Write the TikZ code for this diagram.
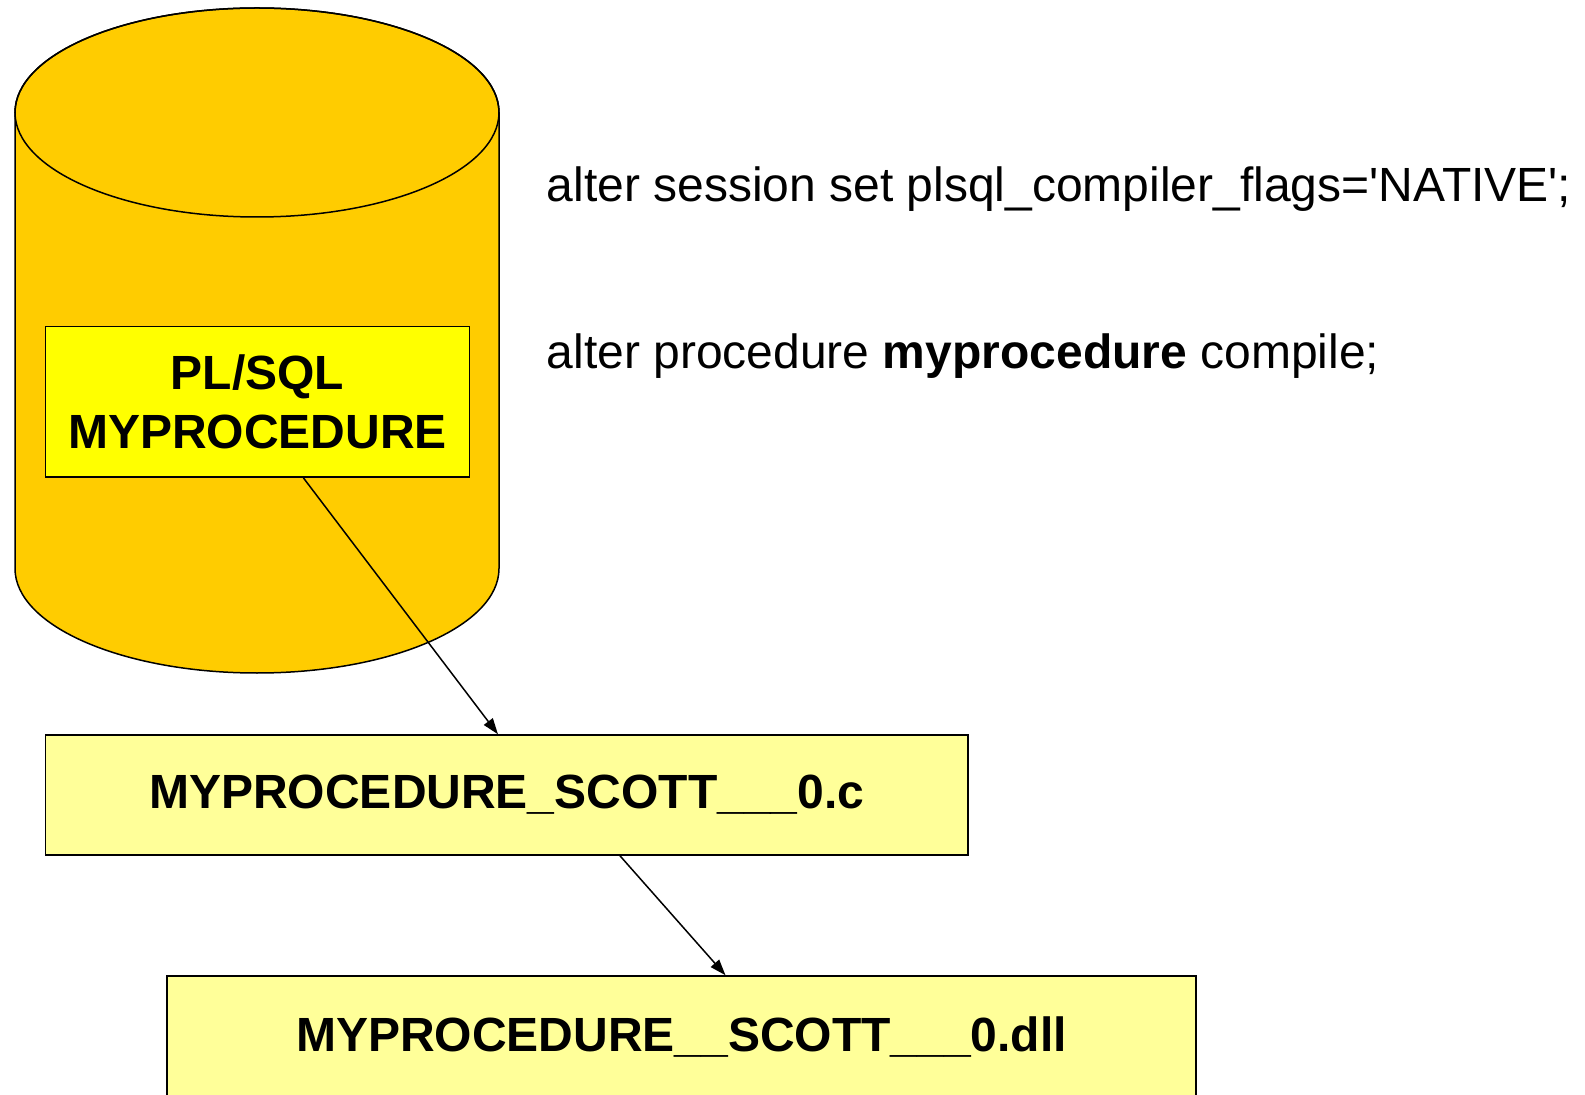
\documentclass[tikz,border=0pt]{standalone}
\usepackage{fontspec}
\setmainfont{Liberation Sans}
\newfontface\boxfont{Liberation Sans Bold}
\usetikzlibrary{arrows.meta}
\definecolor{dbgold}{RGB}{255,204,0}
\definecolor{dbyellow}{RGB}{255,255,0}
\definecolor{dbpale}{RGB}{255,255,153}

\begin{document}
\begin{tikzpicture}[x=.5pt,y=.5pt,line width=.75pt,
    filebox/.style={draw,fill=dbpale,inner sep=0pt,
      font=\boxfont\fontsize{24}{29}\selectfont},
    sqltext/.style={anchor=base west,inner sep=0pt,
      font=\fontsize{24}{29}\selectfont},
    flow/.style={-{Triangle[length=8pt,width=5.5pt]}}]
  \useasboundingbox (0,0) rectangle (1585,1094);
  % database cylinder
  \filldraw[fill=dbgold] (15,981.5) -- (15,525.5)
    arc[start angle=180,end angle=360,x radius=242,y radius=104.5]
    -- (499,981.5)
    arc[start angle=0,end angle=180,x radius=242,y radius=104.5] -- cycle;
  \draw (257,981.5) ellipse[x radius=242,y radius=104.5];
  \node[draw,fill=dbyellow,minimum width=212pt,minimum height=75.25pt,
    inner sep=0pt,align=center,
    font=\boxfont\fontsize{24}{29.3}\selectfont] (plsql) at (257.5,692)
    {PL/SQL\\MYPROCEDURE};
  % generated files
  \node[filebox,minimum width=461.25pt,minimum height=60pt] (cfile)
    at (506.75,299) {MYPROCEDURE\_SCOTT\_\_\_0.c};
  \node[filebox,minimum width=514.5pt,minimum height=61pt] (dllfile)
    at (681.5,57) {MYPROCEDURE\_\_SCOTT\_\_\_0.dll};
  % statements
  \node[sqltext] (setflags) at (546,892)
    {alter session set plsql\_compiler\_flags=\textquotesingle NATIVE\textquotesingle;};
  \node[sqltext] (recompile) at (546,725)
    {alter procedure \textbf{myprocedure} compile;};
  \draw[flow] ([xshift=23pt]plsql.south) -- ([xshift=-4.4pt]cfile.north);
  \draw[flow] ([xshift=56.6pt]cfile.south) -- ([xshift=22pt]dllfile.north);
\end{tikzpicture}
\end{document}
